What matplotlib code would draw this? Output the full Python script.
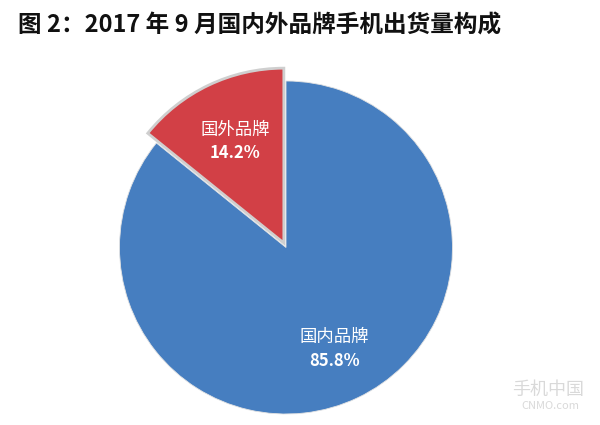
import matplotlib.pyplot as plt
import matplotlib.transforms as mtransforms

plt.rcParams['font.family'] = ['Noto Sans CJK SC', 'DejaVu Sans']

# data
labels = ["国内品牌", "国外品牌"]
shares = [85.8, 14.2]
colors = ["#467ec0", "#d24046"]
explode = [0, 0.03]
title = "图 2：2017 年 9 月国内外品牌手机出货量构成"

fig = plt.figure(figsize=(6, 4.25), dpi=100)
# axes placed so the pie sits where the original one is
ax = fig.add_axes([102.85 / 600, -5.65 / 425, 366.3 / 600, 366.3 / 425])

wedges, texts, autotexts = ax.pie(shares,
                                  colors=colors,
                                  explode=explode,
                                  startangle=90,
                                  counterclock=False,
                                  autopct="%.1f%%",
                                  pctdistance=0.675)
# the exploded slice is drawn a bit larger, with a light grey rim
wedges[1].set_radius(1.05)
wedges[1].set_edgecolor("#cfcfcf")
wedges[1].set_linewidth(2)
wedges[0].set_edgecolor("#e2e2e2")
wedges[0].set_linewidth(0.6)
ax.set_xlim(-1.1, 1.1)
ax.set_ylim(-1.1, 1.1)
ax.set_aspect("equal")
ax.axis("off")

# percentage under the brand name, both white
shift = mtransforms.ScaledTranslation(0, -8.5 / 72, fig.dpi_scale_trans)
for name, t in zip(labels, autotexts):
    t.set_color("white")
    t.set_fontsize(12)
    t.set_fontweight("bold")
    t.set_transform(t.get_transform() + shift)
    ax.annotate(name, xy=t.get_position(), xytext=(0, 8.5),
                textcoords="offset points", ha="center", va="center",
                color="white", fontsize=12.5, fontweight="medium")

fig.text(18 / 600, 1 - 26 / 425, title, fontsize=17, fontweight="bold",
         ha="left", va="center", color="#111111")

# watermark
fig.text(548 / 600, 1 - 390 / 425, "手机中国", fontsize=13, color="#d9d9d9",
         ha="center", va="center")
fig.text(550 / 600, 1 - 406 / 425, "CNMO.com", fontsize=8, color="#d9d9d9",
         ha="center", va="center")

fig.savefig("out.png", dpi=100, facecolor="white")
